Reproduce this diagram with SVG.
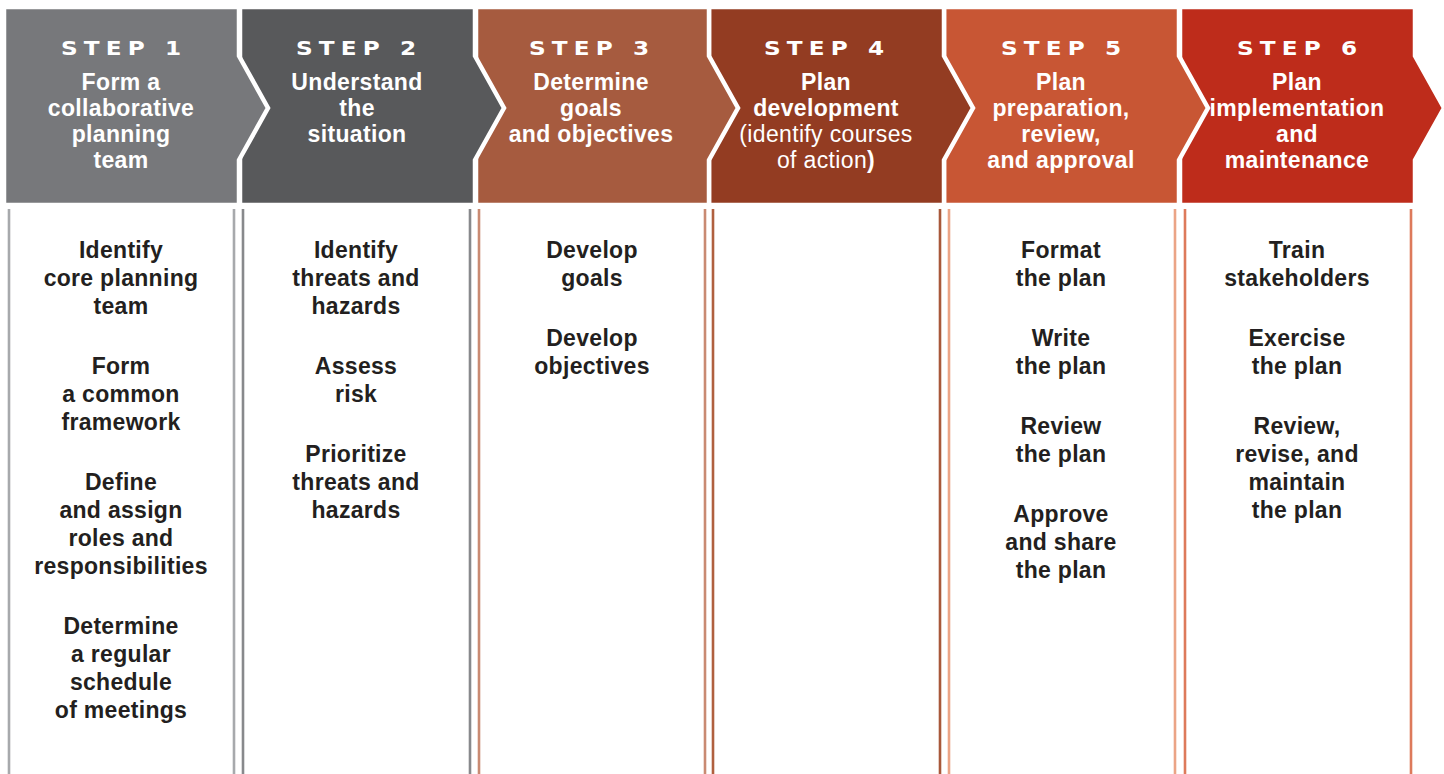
<svg xmlns="http://www.w3.org/2000/svg" width="1444" height="774" viewBox="0 0 1444 774">
<style>
.hdr{stroke:#ffffff;stroke-width:4.5;stroke-linejoin:miter}
.step{font-family:"DejaVu Sans","Liberation Sans",Arial,sans-serif;font-weight:bold;font-size:19px;letter-spacing:5px;fill:#ffffff;text-anchor:middle}
.ttl{font-family:"Liberation Sans",Arial,sans-serif;font-weight:bold;font-size:23px;letter-spacing:0.35px;fill:#ffffff;text-anchor:middle}
.ttl .reg{font-weight:normal}
.ttl .bld{font-weight:bold}
.body{font-family:"Liberation Sans",Arial,sans-serif;font-weight:bold;font-size:23px;letter-spacing:0.3px;fill:#231f20;text-anchor:middle}
.vl{stroke-width:2.6;fill:none}
</style>
<rect x="0" y="0" width="1444" height="774" fill="#ffffff"/>
<g id="connectors"></g>

<g id="step6">
<polygon class="hdr" fill="#be2c1b" points="1180,7 1415,7 1415,56 1444,108 1415,160 1415,205 1180,205"/>
<text class="step" transform="translate(1297,55) scale(1.22,1)" x="2.5" y="0">STEP 6</text>
<text class="ttl"><tspan x="1297" y="90">Plan</tspan><tspan x="1297" y="116">implementation</tspan><tspan x="1297" y="142">and</tspan><tspan x="1297" y="168">maintenance</tspan></text>
<line class="vl" stroke="#dd7a5b" x1="1185" y1="209" x2="1185" y2="774"/>
<line class="vl" stroke="#dd7a5b" x1="1411" y1="209" x2="1411" y2="774"/>
<text class="body"><tspan x="1297" y="258">Train</tspan><tspan x="1297" y="286">stakeholders</tspan><tspan x="1297" y="346">Exercise</tspan><tspan x="1297" y="374">the plan</tspan><tspan x="1297" y="434">Review,</tspan><tspan x="1297" y="462">revise, and</tspan><tspan x="1297" y="490">maintain</tspan><tspan x="1297" y="518">the plan</tspan></text>
</g>

<g id="step5">
<polygon class="hdr" fill="#c85634" points="944,7 1179,7 1179,56 1208,108 1179,160 1179,205 944,205"/>
<text class="step" transform="translate(1061,55) scale(1.22,1)" x="2.5" y="0">STEP 5</text>
<text class="ttl"><tspan x="1061" y="90">Plan</tspan><tspan x="1061" y="116">preparation,</tspan><tspan x="1061" y="142">review,</tspan><tspan x="1061" y="168">and approval</tspan></text>
<line class="vl" stroke="#eba486" x1="949" y1="209" x2="949" y2="774"/>
<line class="vl" stroke="#eba486" x1="1175" y1="209" x2="1175" y2="774"/>
<text class="body"><tspan x="1061" y="258">Format</tspan><tspan x="1061" y="286">the plan</tspan><tspan x="1061" y="346">Write</tspan><tspan x="1061" y="374">the plan</tspan><tspan x="1061" y="434">Review</tspan><tspan x="1061" y="462">the plan</tspan><tspan x="1061" y="522">Approve</tspan><tspan x="1061" y="550">and share</tspan><tspan x="1061" y="578">the plan</tspan></text>
</g>

<g id="step4">
<polygon class="hdr" fill="#933c22" points="709,7 944,7 944,56 973,108 944,160 944,205 709,205"/>
<text class="step" transform="translate(824,55) scale(1.22,1)" x="2.5" y="0">STEP 4</text>
<text class="ttl"><tspan x="826" y="90">Plan</tspan><tspan x="826" y="116">development</tspan><tspan x="826" y="142" class="reg">(identify courses</tspan><tspan x="826" y="168"><tspan class="reg">of action</tspan><tspan class="bld">)</tspan></tspan></text>
<line class="vl" stroke="#b0603f" x1="713" y1="209" x2="713" y2="774"/>
<line class="vl" stroke="#a8583a" x1="940" y1="209" x2="940" y2="774"/>
</g>

<g id="step3">
<polygon class="hdr" fill="#a65b3f" points="476,7 709,7 709,56 738,108 709,160 709,205 476,205"/>
<text class="step" transform="translate(589,55) scale(1.22,1)" x="2.5" y="0">STEP 3</text>
<text class="ttl"><tspan x="591" y="90">Determine</tspan><tspan x="591" y="116">goals</tspan><tspan x="591" y="142">and objectives</tspan></text>
<line class="vl" stroke="#c98a72" x1="479" y1="209" x2="479" y2="774"/>
<line class="vl" stroke="#c98a72" x1="705" y1="209" x2="705" y2="774"/>
<text class="body"><tspan x="592" y="258">Develop</tspan><tspan x="592" y="286">goals</tspan><tspan x="592" y="346">Develop</tspan><tspan x="592" y="374">objectives</tspan></text>
</g>

<g id="step2">
<polygon class="hdr" fill="#58595b" points="240,7 475,7 475,56 504,108 475,160 475,205 240,205"/>
<text class="step" transform="translate(356,55) scale(1.22,1)" x="2.5" y="0">STEP 2</text>
<text class="ttl"><tspan x="357" y="90">Understand</tspan><tspan x="357" y="116">the</tspan><tspan x="357" y="142">situation</tspan></text>
<line class="vl" stroke="#88898c" x1="243" y1="209" x2="243" y2="774"/>
<line class="vl" stroke="#88898c" x1="470" y1="209" x2="470" y2="774"/>
<text class="body"><tspan x="356" y="258">Identify</tspan><tspan x="356" y="286">threats and</tspan><tspan x="356" y="314">hazards</tspan><tspan x="356" y="374">Assess</tspan><tspan x="356" y="402">risk</tspan><tspan x="356" y="462">Prioritize</tspan><tspan x="356" y="490">threats and</tspan><tspan x="356" y="518">hazards</tspan></text>
</g>

<g id="step1">
<polygon class="hdr" fill="#77787b" points="4,7 239,7 239,56 268,108 239,160 239,205 4,205"/>
<text class="step" transform="translate(121,55) scale(1.22,1)" x="2.5" y="0">STEP 1</text>
<text class="ttl"><tspan x="121" y="90">Form a</tspan><tspan x="121" y="116">collaborative</tspan><tspan x="121" y="142">planning</tspan><tspan x="121" y="168">team</tspan></text>
<line class="vl" stroke="#a7a9ac" x1="9" y1="209" x2="9" y2="774"/>
<line class="vl" stroke="#a7a9ac" x1="234" y1="209" x2="234" y2="774"/>
<text class="body"><tspan x="121" y="258">Identify</tspan><tspan x="121" y="286">core planning</tspan><tspan x="121" y="314">team</tspan><tspan x="121" y="374">Form</tspan><tspan x="121" y="402">a common</tspan><tspan x="121" y="430">framework</tspan><tspan x="121" y="490">Define</tspan><tspan x="121" y="518">and assign</tspan><tspan x="121" y="546">roles and</tspan><tspan x="121" y="574">responsibilities</tspan><tspan x="121" y="634">Determine</tspan><tspan x="121" y="662">a regular</tspan><tspan x="121" y="690">schedule</tspan><tspan x="121" y="718">of meetings</tspan></text>
</g>
</svg>
